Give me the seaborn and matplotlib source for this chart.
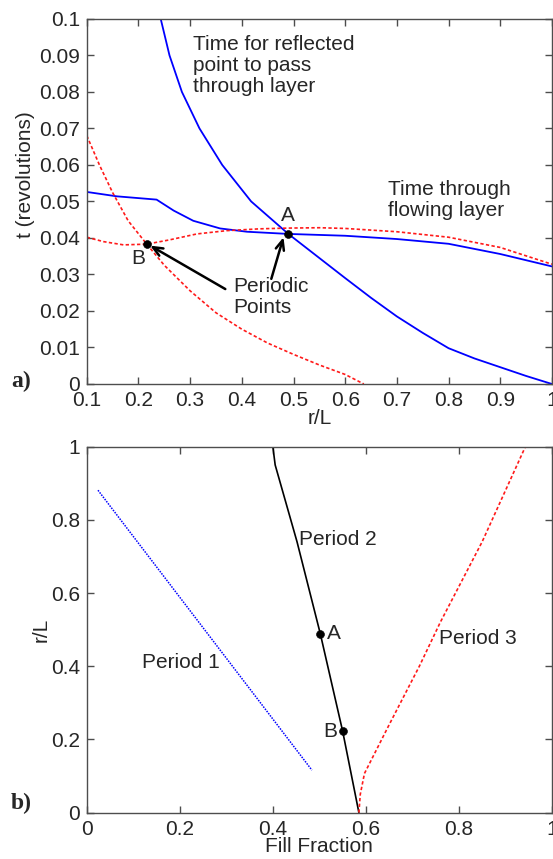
import numpy as np
import pandas as pd
import matplotlib
matplotlib.use('Agg')
import matplotlib.pyplot as plt
import seaborn as sns

# panel a) -- residence times vs r/L
refl_x = [0.243, 0.26, 0.284, 0.318, 0.362, 0.418, 0.49, 0.55, 0.6, 0.65, 0.7, 0.75, 0.8,
          0.85, 0.9, 0.95, 1.0]
refl_t = [0.1, 0.09, 0.08, 0.07, 0.06, 0.05, 0.0411, 0.0345, 0.029, 0.0236, 0.0185, 0.014,
          0.0098, 0.007, 0.0046, 0.0022, 0.0]

flow_x = [0.1, 0.158, 0.235, 0.268, 0.306, 0.358, 0.41, 0.49, 0.6, 0.7, 0.8, 0.9, 1.0]
flow_t = [0.0526, 0.0514, 0.0505, 0.0475, 0.0447, 0.0426, 0.0417, 0.0411, 0.0406, 0.0397,
          0.0384, 0.0356, 0.0322]

refl_b_x = [0.1, 0.125, 0.15, 0.18, 0.216, 0.25, 0.3, 0.35, 0.4, 0.45, 0.5, 0.55, 0.6, 0.636]
refl_b_t = [0.068, 0.0598, 0.0524, 0.0447, 0.0383, 0.0325, 0.0255, 0.0195, 0.015, 0.0112,
            0.0081, 0.0052, 0.0026, 0.0]

flow_b_x = [0.1, 0.132, 0.171, 0.216, 0.261, 0.313, 0.371, 0.435, 0.49, 0.55, 0.6, 0.7, 0.8,
            0.9, 1.0]
flow_b_t = [0.0402, 0.039, 0.0381, 0.0383, 0.0395, 0.0411, 0.042, 0.0425, 0.0427, 0.0428,
            0.0426, 0.0417, 0.0402, 0.0374, 0.0328]

pts_a_x = [0.49, 0.216]
pts_a_t = [0.0411, 0.0383]

# panel b) -- periodic point location vs fill fraction
p1_fill = [0.024, 0.484]
p1_r = [0.881, 0.116]

p2_fill = [0.40, 0.405, 0.452, 0.502, 0.55, 0.585]
p2_r = [1.0, 0.95, 0.74, 0.489, 0.223, 0.0]

p3_fill = [0.585, 0.588, 0.597, 0.65, 0.715, 0.76, 0.85, 0.943]
p3_r = [0.0, 0.05, 0.107, 0.24, 0.40, 0.52, 0.74, 1.0]

pts_b_fill = [0.502, 0.55]
pts_b_r = [0.489, 0.223]

sns.set_style('ticks')
plt.rcParams['font.family'] = ['Liberation Sans', 'DejaVu Sans']
fs = 15

blue = '#0000ff'
red = '#ff1a1a'
spine_col = '#4d4d4d'
red_dash = (0, (2.0, 1.4))


def style_box(ax):
    for s in ax.spines.values():
        s.set_visible(True)
        s.set_color(spine_col)
        s.set_linewidth(1.0)
    ax.tick_params(direction='in', length=5, width=1, color=spine_col,
                   top=True, right=True, labelsize=fs, pad=5)


fig = plt.figure(figsize=(5.53, 8.59), dpi=100)
ax1 = fig.add_axes([0.157, 0.553, 0.841, 0.425])
ax2 = fig.add_axes([0.157, 0.054, 0.841, 0.426])

def line(ax, x, y, **kw):
    sns.lineplot(x=x, y=y, ax=ax, sort=False, estimator=None, **kw)

line(ax1, refl_x, refl_t, color=blue, lw=1.3)
line(ax1, flow_x, flow_t, color=blue, lw=1.3)
line(ax1, refl_b_x, refl_b_t, color=red, lw=1.2, linestyle=red_dash)
line(ax1, flow_b_x, flow_b_t, color=red, lw=1.2, linestyle=red_dash)
sns.scatterplot(x=pts_a_x, y=pts_a_t, ax=ax1, color='black', s=32, zorder=5, edgecolor='black')

ax1.set_xlim(0.1, 1.0)
ax1.set_ylim(0, 0.1)
ax1.set_xticks(np.arange(0.1, 1.01, 0.1))
ax1.set_xticklabels(['0.1', '0.2', '0.3', '0.4', '0.5', '0.6', '0.7', '0.8', '0.9', '1'])
ax1.set_yticks(np.arange(0, 0.101, 0.01))
ax1.set_yticklabels(['0', '0.01', '0.02', '0.03', '0.04', '0.05', '0.06', '0.07', '0.08', '0.09', '0.1'])
ax1.set_xlabel('r/L', fontsize=fs)
ax1.set_ylabel('t (revolutions)', fontsize=fs)
ax1.xaxis.set_label_coords(0.5, -0.068)
ax1.yaxis.set_label_coords(-0.112, 0.573)
style_box(ax1)

ax1.text(0.306, 0.0873, 'Time for reflected\npoint to pass\nthrough layer', ha='left', va='center',
         linespacing=1.12, fontsize=fs)
ax1.text(0.683, 0.0504, 'Time through\nflowing layer', ha='left', va='center', linespacing=1.12,
         fontsize=fs)
ax1.text(0.49, 0.0461, 'A', ha='center', va='center', fontsize=fs)
ax1.text(0.2, 0.0344, 'B', ha='center', va='center', fontsize=fs)
ax1.text(0.384, 0.0239, 'Periodic\nPoints', ha='left', va='center', linespacing=1.12, fontsize=fs)
arw = dict(arrowstyle='->,head_length=0.7,head_width=0.3', color='black', lw=1.8,
           shrinkA=0, shrinkB=0)
ax1.annotate('', xy=(0.2226, 0.0379), xytext=(0.368, 0.026), arrowprops=arw)
ax1.annotate('', xy=(0.4806, 0.0402), xytext=(0.457, 0.0288), arrowprops=arw)

line(ax2, p1_fill, p1_r, color=blue, lw=1.1, linestyle=(0, (1.0, 0.8)))
line(ax2, p2_fill, p2_r, color='black', lw=1.2)
line(ax2, p3_fill, p3_r, color=red, lw=1.2, linestyle=red_dash)
sns.scatterplot(x=pts_b_fill, y=pts_b_r, ax=ax2, color='black', s=32, zorder=5, edgecolor='black')

ax2.set_xlim(0, 1)
ax2.set_ylim(0, 1)
ax2.set_xticks([0, 0.2, 0.4, 0.6, 0.8, 1.0])
ax2.set_xticklabels(['0', '0.2', '0.4', '0.6', '0.8', '1'])
ax2.set_yticks([0, 0.2, 0.4, 0.6, 0.8, 1.0])
ax2.set_yticklabels(['0', '0.2', '0.4', '0.6', '0.8', '1'])
ax2.set_xlabel('Fill Fraction', fontsize=fs)
ax2.set_ylabel('r/L', fontsize=fs)
ax2.xaxis.set_label_coords(0.5, -0.066)
ax2.yaxis.set_label_coords(-0.077, 0.5)
style_box(ax2)

ax2.text(0.456, 0.746, 'Period 2', ha='left', va='center', fontsize=fs)
ax2.text(0.118, 0.41, 'Period 1', ha='left', va='center', fontsize=fs)
ax2.text(0.757, 0.477, 'Period 3', ha='left', va='center', fontsize=fs)
ax2.text(0.516, 0.489, 'A', ha='left', va='center', fontsize=fs)
ax2.text(0.538, 0.2225, 'B', ha='right', va='center', fontsize=fs)

fig.text(0.038, 1 - 381 / 859, 'a)', family='Liberation Serif', fontweight='bold',
         fontsize=17, ha='center', va='center')
fig.text(0.038, 1 - 803 / 859, 'b)', family='Liberation Serif', fontweight='bold',
         fontsize=17, ha='center', va='center')

fig.savefig('out.png', dpi=100)
